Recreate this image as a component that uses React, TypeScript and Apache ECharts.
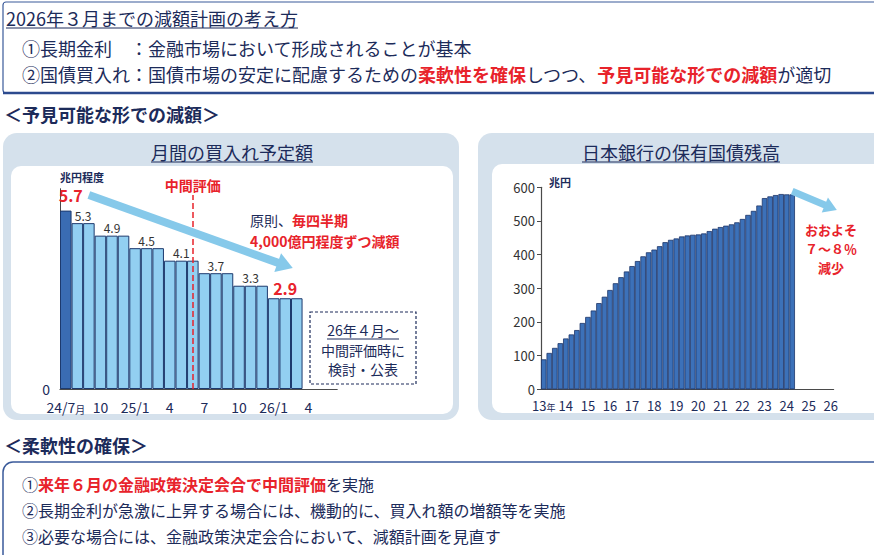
import { useEffect, useRef } from 'react';
import * as echarts from 'echarts';

const FONT = '"Noto Sans CJK JP", "Noto Sans CJK SC", sans-serif';
const NAVY = '#1c2b5a';
const RED = '#e8232b';
const ARROW_BLUE = '#86c9ea';

// Monthly JGB purchase plan (trillion yen, approx.)
const planMonths = [
  '24/7', '24/8', '24/9', '24/10', '24/11', '24/12',
  '25/1', '25/2', '25/3', '25/4', '25/5', '25/6',
  '25/7', '25/8', '25/9', '25/10', '25/11', '25/12',
  '26/1', '26/2', '26/3', '26/4', '26/5', '26/6',
];
const planTickLabels = ['24/7', '10', '25/1', '4', '7', '10', '26/1', '4'];
const planValues = [
  5.7, 5.3, 5.3, 4.9, 4.9, 4.9, 4.5, 4.5, 4.5, 4.1, 4.1,
  4.1, 3.7, 3.7, 3.7, 3.3, 3.3, 3.3, 2.9, 2.9, 2.9,
];
const midReviewMonth = '25/6';

// BOJ JGB holdings, end of each quarter (trillion yen)
const holdingYears = ['13', '14', '15', '16', '17', '18', '19', '20', '21', '22', '23', '24', '25', '26'];
const holdingValues = [
  89, 108, 123, 137, 151, 163, 176, 197, 215, 234, 256, 275,
  295, 315, 333, 350, 366, 381, 395, 407, 415, 425, 437, 444,
  448, 454, 457, 459, 460, 463, 470, 477, 482, 486, 490, 496,
  506, 518, 530, 546, 568, 573, 577, 580, 579, 579,
];

const holdingQuarters: string[] = [];
holdingYears.forEach((y) => {
  for (let q = 1; q <= 4; q++) holdingQuarters.push(`20${y}Q${q}`);
});
holdingQuarters.splice(holdingYears.length * 4 - 3); // axis runs up to 2026Q1

// one value label per run of equal monthly amounts, centred over the run
function planBarData() {
  const band = 277.2 / planMonths.length;
  const out: any[] = [];
  let s = 0;
  const runs: [number, number][] = [];
  for (let i = 1; i <= planValues.length; i++) {
    if (i === planValues.length || planValues[i] !== planValues[s]) {
      runs.push([s, i - 1]);
      s = i;
    }
  }
  const labelAt: Record<number, any> = {};
  runs.forEach(([a, b], k) => {
    const mid = Math.floor((a + b) / 2);
    const half = (a + b) % 2 === 1;
    const strong = k === 0 || k === runs.length - 1;
    const size = strong ? 16 : 12;
    labelAt[mid] = {
      show: true,
      position: 'top',
      distance: 2,
      offset: [half ? band / 2 : k === 0 ? 5 : 0, k === 0 ? -6 : 0],
      formatter: String(planValues[mid].toFixed(1)),
      color: strong ? RED : '#333',
      fontSize: size,
      lineHeight: size,
      fontWeight: strong ? 'bold' : 'normal',
      fontFamily: FONT,
    };
  });
  planValues.forEach((v, i) => {
    const item: any = { value: v };
    if (i === 0) item.itemStyle = { color: '#3a6cb3' };
    if (labelAt[i]) item.label = labelAt[i];
    out.push(item);
  });
  return out;
}

function text(x: number, y: number, t: string, o: any = {}) {
  const size = o.fontSize || 18;
  return {
    type: 'text',
    x,
    y,
    z: 20,
    style: {
      text: t,
      fill: o.fill || NAVY,
      fontSize: size,
      lineHeight: size,
      fontFamily: FONT,
      fontWeight: o.fontWeight || 'normal',
      textAlign: o.align || 'left',
      textVerticalAlign: 'middle',
      rich: o.rich,
    },
  };
}

function hline(x1: number, x2: number, y: number, color = NAVY, w = 1) {
  return { type: 'line', z: 20, shape: { x1, y1: y, x2, y2: y }, style: { stroke: color, lineWidth: w } };
}

function richSet(size: number) {
  return {
    n: { fill: NAVY, color: NAVY, fontSize: size, lineHeight: size, fontFamily: FONT },
    r: { fill: RED, color: RED, fontSize: size, lineHeight: size, fontFamily: FONT, fontWeight: 'bold' },
  };
}
const richTop = richSet(18);
const richBottom = richSet(16);
const richNote = richSet(14);

const graphics: any[] = [
  // policy summary box
  { type: 'rect', z: 0, shape: { x: 3, y: 2, width: 880, height: 91, r: 3 }, style: { fill: '#fff', stroke: '#3a5a9a', lineWidth: 1.2 } },
  hline(3, 874, 93, '#2c4a8e', 2.5),
  text(6, 18, '2026年３月までの減額計画の考え方'),
  hline(6, 298, 28),
  text(22, 48, '①長期金利　：金融市場において形成されることが基本'),
  text(22, 74, '{n|②国債買入れ：国債市場の安定に配慮するための}{r|柔軟性を確保}{n|しつつ、}{r|予見可能な形での減額}{n|が適切}', { rich: richTop }),
  text(4, 114, '＜予見可能な形での減額＞', { fontWeight: 'bold' }),

  // panels
  { type: 'rect', z: 0, shape: { x: 3, y: 133, width: 456, height: 287, r: 14 }, style: { fill: '#d5e1ec' } },
  { type: 'rect', z: 0, shape: { x: 11, y: 166, width: 442, height: 248, r: 10 }, style: { fill: '#fff' } },
  text(232, 152, '月間の買入れ予定額', { align: 'center' }),
  hline(151, 313, 162),
  { type: 'rect', z: 0, shape: { x: 478, y: 133, width: 420, height: 287, r: 14 }, style: { fill: '#d5e1ec' } },
  { type: 'rect', z: 0, shape: { x: 492, y: 164, width: 400, height: 249, r: 10 }, style: { fill: '#fff' } },
  text(681, 152, '日本銀行の保有国債残高', { align: 'center' }),
  hline(582, 780, 162),

  // notes in the monthly plan chart
  text(250, 220, '{n|原則、}{r|毎四半期}', { rich: richNote, fontSize: 14 }),
  text(250, 241, '{r|4,000億円程度ずつ減額}', { rich: richNote, fontSize: 14 }),
  { type: 'rect', z: 15, shape: { x: 310, y: 312, width: 106, height: 72 }, style: { fill: '#fff', stroke: NAVY, lineWidth: 1.2, lineDash: [3, 2] } },
  text(363, 330, '26年４月～', { align: 'center', fontSize: 14 }),
  hline(327, 399, 339),
  text(363, 350, '中間評価時に', { align: 'center', fontSize: 14 }),
  text(363, 369, '検討・公表', { align: 'center', fontSize: 14 }),

  // note beside the holdings chart
  text(831, 229, 'おおよそ', { align: 'center', fontSize: 13, fontWeight: 'bold', fill: RED }),
  text(831, 248, '７～８％', { align: 'center', fontSize: 13, fontWeight: 'bold', fill: RED }),
  text(831, 267, '減少', { align: 'center', fontSize: 13, fontWeight: 'bold', fill: RED }),

  // flexibility box
  text(4, 445, '＜柔軟性の確保＞', { fontWeight: 'bold' }),
  { type: 'rect', z: 0, shape: { x: 3, y: 462, width: 880, height: 110, r: 10 }, style: { fill: '#fff', stroke: '#3a5a9a', lineWidth: 1.5 } },
  text(22, 484, '{n|①}{r|来年６月の金融政策決定会合で中間評価}{n|を実施}', { rich: richBottom, fontSize: 16 }),
  text(22, 510, '②長期金利が急激に上昇する場合には、機動的に、買入れ額の増額等を実施', { fontSize: 16 }),
  text(22, 536, '③必要な場合には、金融政策決定会合において、減額計画を見直す', { fontSize: 16 }),
];

export default function App() {
  const ref = useRef<HTMLDivElement>(null);

  useEffect(() => {
    if (!ref.current) return;
    const chart = echarts.init(ref.current, undefined, { renderer: 'svg' });

    const option: any = {
      animation: false,
      backgroundColor: '#fff',
      textStyle: { fontFamily: FONT },
      graphic: graphics,
      grid: [
        { left: 60, top: 188.7, width: 277.2, height: 200.3 },
        { left: 541, top: 187.3, width: 292.6, height: 202 },
      ],
      xAxis: [
        {
          type: 'category',
          gridIndex: 0,
          data: planMonths,
          axisLine: { lineStyle: { color: '#4a4a4a', width: 1.2 } },
          axisTick: { interval: 2, length: 5, lineStyle: { color: '#4a4a4a' } },
          axisLabel: {
            interval: 2,
            showMinLabel: true,
            margin: 11,
            color: NAVY,
            fontSize: 14,
            lineHeight: 14,
            fontFamily: FONT,
            formatter: (_v: string, i: number) => {
              const t = planTickLabels[i / 3];
              return i === 0 ? `${t}{m|月}` : t;
            },
            rich: { m: { fontSize: 10, lineHeight: 14, color: NAVY, fontFamily: FONT, verticalAlign: 'bottom' } },
          },
        },
        {
          type: 'category',
          gridIndex: 1,
          data: holdingQuarters,
          axisLine: { lineStyle: { color: '#4a4a4a', width: 1.2 } },
          axisTick: { interval: 3, length: 4, lineStyle: { color: '#4a4a4a' } },
          axisLabel: {
            interval: 3,
            showMinLabel: true,
            margin: 10,
            color: NAVY,
            fontSize: 13,
            lineHeight: 13,
            fontFamily: FONT,
            formatter: (_v: string, i: number) => {
              const y = holdingYears[i / 4];
              return i === 0 ? `${y}{m|年}` : y;
            },
            rich: { m: { fontSize: 9, lineHeight: 13, color: NAVY, fontFamily: FONT, verticalAlign: 'bottom' } },
          },
        },
      ],
      yAxis: [
        {
          type: 'value',
          gridIndex: 0,
          min: 0,
          max: 6.4,
          splitLine: { show: false },
          axisTick: { show: false },
          axisLine: { show: true, lineStyle: { color: '#4a4a4a' } },
          axisLabel: { formatter: (v: number) => (v === 0 ? '0' : ''), color: NAVY, fontSize: 14, lineHeight: 12, margin: 10 },
          name: '兆円程度',
          nameLocation: 'end',
          nameGap: 12,
          nameTextStyle: { align: 'left', verticalAlign: 'middle', fontSize: 11, lineHeight: 11, color: NAVY, fontWeight: 'bold', fontFamily: FONT },
        },
        {
          type: 'value',
          gridIndex: 1,
          min: 0,
          max: 600,
          interval: 100,
          splitLine: { show: false },
          axisTick: { show: true, length: 4, lineStyle: { color: '#4a4a4a' } },
          axisLine: { show: true, lineStyle: { color: '#4a4a4a', width: 1.2 } },
          axisLabel: { color: '#333', fontSize: 13, lineHeight: 12, margin: 6 },
          name: '兆円',
          nameLocation: 'end',
          nameGap: 5,
          nameTextStyle: { align: 'left', verticalAlign: 'middle', fontSize: 11, lineHeight: 11, color: NAVY, fontWeight: 'bold', padding: [0, 0, 0, 8], fontFamily: FONT },
        },
      ],
      series: [
        {
          type: 'bar',
          xAxisIndex: 0,
          yAxisIndex: 0,
          barCategoryGap: '0%',
          data: planBarData(),
          itemStyle: { color: '#92cff1', borderColor: '#1d3a6e', borderWidth: 1 },
          label: { show: false },
          markLine: {
            silent: true,
            symbol: ['none', 'none'],
            label: { show: false },
            data: [
              [
                {
                  coord: [midReviewMonth, 0],
                  lineStyle: { color: RED, type: 'dashed', width: 1.5 },
                  label: { show: true, position: 'end', distance: 3, formatter: '中間評価', color: RED, fontWeight: 'bold', fontSize: 14, lineHeight: 14, fontFamily: FONT },
                },
                {
                  coord: [midReviewMonth, 6.2],
                  lineStyle: { color: RED, type: 'dashed', width: 1.5 },
                  label: { show: true, position: 'end', distance: 3, formatter: '中間評価', color: RED, fontWeight: 'bold', fontSize: 14, lineHeight: 14, fontFamily: FONT },
                },
              ],
              [
                { coord: [planMonths[2], 6.2], symbol: 'none', lineStyle: { color: ARROW_BLUE, width: 8, type: 'solid' } },
                { coord: [planMonths[19], 3.95], symbol: 'triangle', symbolSize: [20, 16], lineStyle: { color: ARROW_BLUE, width: 8, type: 'solid' } },
              ],
            ],
          },
        },
        {
          type: 'bar',
          xAxisIndex: 1,
          yAxisIndex: 1,
          barCategoryGap: '0%',
          data: holdingValues,
          itemStyle: { color: '#3c71b9', borderColor: '#1d3568', borderWidth: 0.8 },
          markLine: {
            silent: true,
            symbol: ['none', 'triangle'],
            symbolSize: [16, 13],
            label: { show: false },
            lineStyle: { color: ARROW_BLUE, width: 7, type: 'solid', curveness: 0.25 },
            data: [[{ coord: ['2024Q2', 588] }, { coord: ['2026Q1', 540] }]],
          },
        },
      ],
    };

    chart.setOption(option);
    return () => chart.dispose();
  }, []);

  return <div ref={ref} style={{ position: 'absolute', left: 0, top: 0, width: 874, height: 555 }} />;
}
